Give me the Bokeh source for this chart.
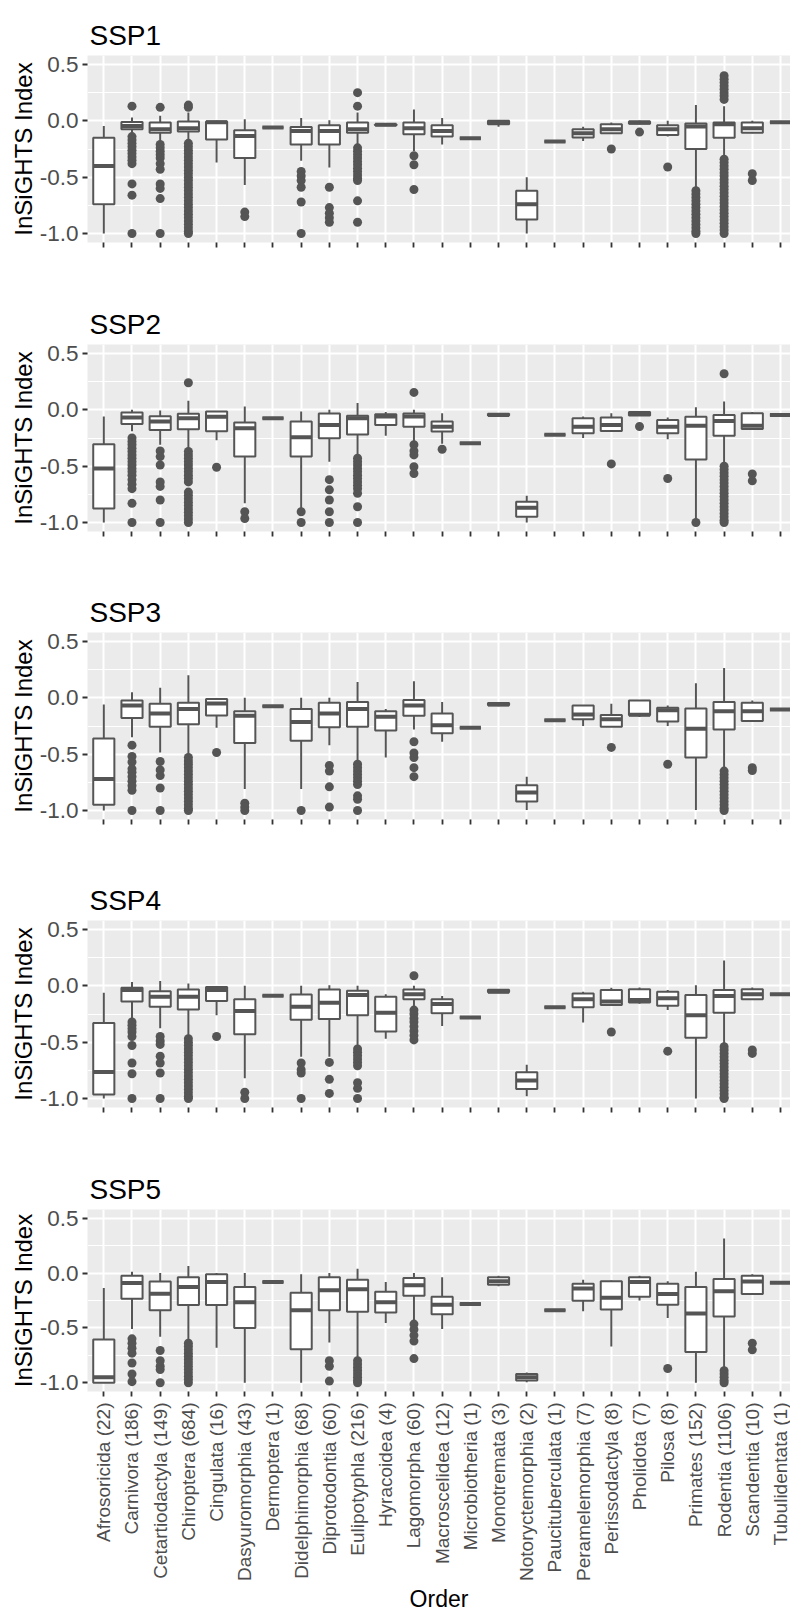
import math
from bokeh.plotting import figure
from bokeh.layouts import column
from bokeh.models import Range1d, FixedTicker, NumeralTickFormatter, ColumnDataSource
from bokeh.embed import file_html
from bokeh.resources import INLINE

# ---------------- data ----------------
orders = ["Afrosoricida (22)", "Carnivora (186)", "Cetartiodactyla (149)", "Chiroptera (684)",
          "Cingulata (16)", "Dasyuromorphia (43)", "Dermoptera (1)", "Didelphimorphia (68)",
          "Diprotodontia (60)", "Eulipotyphla (216)", "Hyracoidea (4)", "Lagomorpha (60)",
          "Macroscelidea (12)", "Microbiotheria (1)", "Monotremata (3)", "Notoryctemorphia (2)",
          "Paucituberculata (1)", "Peramelemorphia (7)", "Perissodactyla (8)", "Pholidota (7)",
          "Pilosa (8)", "Primates (152)", "Rodentia (1106)", "Scandentia (10)", "Tubulidentata (1)"]

scenarios = ["SSP1", "SSP2", "SSP3", "SSP4", "SSP5"]
y_ticks = [-1.0, -0.5, 0.0, 0.5]

# SSP1
ssp1_lo = [-1.0, -0.12, -0.18, -0.18, -0.37, -0.57, -0.06, -0.355, -0.415, -0.21, -0.04, -0.27, -0.21, -0.155, -0.053, -1.0, -0.184, -0.18, -0.11, -0.03, -0.14, -0.59, -0.31, -0.11, -0.012]
ssp1_q1 = [-0.74, -0.075, -0.105, -0.095, -0.165, -0.33, -0.06, -0.21, -0.21, -0.105, -0.04, -0.12, -0.14, -0.155, -0.03, -0.875, -0.184, -0.148, -0.11, -0.025, -0.125, -0.25, -0.15, -0.105, -0.012]
ssp1_med = [-0.40, -0.045, -0.075, -0.065, -0.012, -0.135, -0.06, -0.09, -0.09, -0.075, -0.035, -0.065, -0.09, -0.155, -0.015, -0.74, -0.184, -0.11, -0.074, -0.015, -0.074, -0.05, -0.03, -0.065, -0.012]
ssp1_q3 = [-0.15, -0.01, -0.015, -0.005, -0.005, -0.083, -0.06, -0.055, -0.04, -0.015, -0.03, -0.015, -0.04, -0.155, 0.0, -0.62, -0.184, -0.074, -0.03, -0.005, -0.04, -0.024, -0.015, -0.015, -0.012]
ssp1_hi = [-0.045, 0.03, 0.045, 0.075, 0.0, 0.015, -0.06, 0.025, 0.005, 0.075, -0.03, 0.10, 0.025, -0.155, 0.0, -0.5, -0.184, -0.053, -0.015, 0.0, 0.0, 0.14, 0.13, 0.0, -0.012]
ssp1_out = [
    [],
    [0.13, -0.14, -0.17, -0.2, -0.23, -0.26, -0.29, -0.32, -0.35, -0.38, -0.56, -0.66, -1.0],
    [0.12, -0.21, -0.24, -0.27, -0.3, -0.33, -0.38, -0.43, -0.56, -0.6, -0.69, -1.0],
    [0.14, 0.12, -0.2, -0.23, -0.26, -0.29, -0.32, -0.35, -0.38, -0.41, -0.44, -0.47, -0.5, -0.53, -0.56, -0.59, -0.62, -0.65, -0.68, -0.71, -0.74, -0.77, -0.8, -0.83, -0.86, -0.89, -0.92, -0.95, -0.98, -1.0],
    [],
    [-0.81, -0.85],
    [],
    [-0.45, -0.49, -0.53, -0.59, -0.72, -1.0],
    [-0.59, -0.77, -0.82, -0.86, -0.9],
    [0.25, 0.13, -0.24, -0.27, -0.3, -0.33, -0.36, -0.39, -0.42, -0.45, -0.48, -0.51, -0.53, -0.71, -0.9],
    [],
    [-0.31, -0.39, -0.61],
    [], [], [], [], [], [],
    [-0.25],
    [-0.1],
    [-0.41],
    [-0.62, -0.65, -0.68, -0.71, -0.74, -0.77, -0.8, -0.83, -0.86, -0.89, -0.92, -0.95, -0.98, -1.0],
    [0.4, 0.37, 0.34, 0.31, 0.28, 0.25, 0.22, 0.19, -0.34, -0.37, -0.4, -0.43, -0.46, -0.49, -0.52, -0.55, -0.58, -0.61, -0.64, -0.67, -0.7, -0.73, -0.76, -0.79, -0.82, -0.85, -0.88, -0.91, -0.94, -0.97, -1.0],
    [-0.47, -0.53],
    [],
]

# SSP2
ssp2_lo = [-1.0, -0.19, -0.31, -0.34, -0.27, -0.83, -0.074, -0.875, -0.46, -0.41, -0.23, -0.28, -0.3, -0.297, -0.06, -1.0, -0.222, -0.25, -0.19, -0.05, -0.26, -0.97, -0.475, -0.17, -0.045]
ssp2_q1 = [-0.875, -0.125, -0.178, -0.172, -0.19, -0.415, -0.074, -0.415, -0.252, -0.22, -0.134, -0.15, -0.193, -0.297, -0.05, -0.95, -0.222, -0.208, -0.187, -0.05, -0.208, -0.44, -0.23, -0.17, -0.045]
ssp2_med = [-0.52, -0.068, -0.104, -0.074, -0.062, -0.163, -0.074, -0.243, -0.134, -0.074, -0.06, -0.06, -0.15, -0.297, -0.045, -0.87, -0.222, -0.15, -0.134, -0.035, -0.15, -0.142, -0.098, -0.142, -0.045]
ssp2_q3 = [-0.305, -0.024, -0.056, -0.035, -0.015, -0.113, -0.074, -0.104, -0.033, -0.053, -0.04, -0.033, -0.104, -0.297, -0.035, -0.816, -0.222, -0.074, -0.068, -0.02, -0.09, -0.062, -0.045, -0.03, -0.045]
ssp2_hi = [-0.06, 0.0, -0.005, 0.08, -0.015, 0.03, -0.074, -0.015, 0.0, 0.06, -0.02, 0.0, -0.03, -0.297, -0.03, -0.763, -0.222, -0.06, -0.03, -0.02, -0.068, 0.024, 0.074, -0.02, -0.045]
ssp2_out = [
    [],
    [-0.25, -0.28, -0.31, -0.34, -0.37, -0.4, -0.43, -0.46, -0.49, -0.52, -0.55, -0.58, -0.62, -0.66, -0.7, -0.83, -1.0],
    [-0.365, -0.415, -0.49, -0.64, -0.68, -0.8, -1.0],
    [0.24, -0.37, -0.4, -0.43, -0.46, -0.49, -0.52, -0.55, -0.58, -0.61, -0.64, -0.73, -0.76, -0.79, -0.82, -0.85, -0.88, -0.91, -0.94, -0.97, -1.0],
    [-0.51],
    [-0.905, -0.965],
    [],
    [-0.905, -1.0],
    [-0.62, -0.71, -0.8, -0.905, -1.0],
    [-0.43, -0.46, -0.49, -0.52, -0.55, -0.58, -0.61, -0.64, -0.67, -0.7, -0.74, -0.86, -1.0],
    [],
    [0.155, -0.31, -0.365, -0.4, -0.505, -0.565],
    [-0.35],
    [], [], [], [], [],
    [-0.48],
    [-0.148],
    [-0.61],
    [-1.0],
    [0.32, -0.5, -0.53, -0.56, -0.59, -0.62, -0.65, -0.68, -0.71, -0.74, -0.77, -0.8, -0.83, -0.86, -0.89, -0.92, -0.95, -0.98, -1.0],
    [-0.57, -0.63],
    [],
]

# SSP3
ssp3_lo = [-1.0, -0.35, -0.485, -0.5, -0.265, -0.81, -0.074, -0.81, -0.42, -0.56, -0.53, -0.28, -0.39, -0.265, -0.075, -0.995, -0.2, -0.25, -0.256, -0.17, -0.25, -0.995, -0.62, -0.206, -0.103]
ssp3_q1 = [-0.95, -0.18, -0.256, -0.235, -0.156, -0.4, -0.074, -0.38, -0.26, -0.256, -0.29, -0.16, -0.315, -0.265, -0.065, -0.92, -0.2, -0.19, -0.256, -0.155, -0.21, -0.53, -0.28, -0.206, -0.103]
ssp3_med = [-0.72, -0.068, -0.138, -0.1, -0.05, -0.16, -0.074, -0.215, -0.138, -0.1, -0.168, -0.068, -0.244, -0.265, -0.06, -0.84, -0.2, -0.147, -0.19, -0.15, -0.11, -0.274, -0.118, -0.118, -0.103]
ssp3_q3 = [-0.36, -0.024, -0.053, -0.044, -0.01, -0.118, -0.074, -0.1, -0.044, -0.038, -0.12, -0.02, -0.138, -0.265, -0.045, -0.775, -0.2, -0.068, -0.153, -0.024, -0.088, -0.094, -0.038, -0.044, -0.103]
ssp3_hi = [-0.06, 0.05, 0.09, 0.2, -0.01, 0.0, -0.074, 0.0, 0.0, 0.14, -0.1, 0.147, -0.038, -0.265, -0.04, -0.7, -0.2, -0.068, -0.053, -0.024, -0.068, 0.13, 0.265, -0.024, -0.103]
ssp3_out = [
    [],
    [-0.42, -0.52, -0.57, -0.63, -0.66, -0.7, -0.74, -0.78, -0.82, -1.0],
    [-0.565, -0.64, -0.69, -0.8, -1.0],
    [-0.53, -0.56, -0.59, -0.62, -0.65, -0.68, -0.71, -0.74, -0.77, -0.8, -0.83, -0.86, -0.89, -0.92, -0.95, -0.98, -1.0],
    [-0.485],
    [-0.935, -0.97, -1.0],
    [],
    [-1.0],
    [-0.6, -0.65, -0.79, -0.97],
    [-0.59, -0.62, -0.65, -0.68, -0.71, -0.74, -0.77, -0.87, -0.9, -1.0],
    [],
    [-0.39, -0.49, -0.53, -0.62, -0.7],
    [], [], [], [], [], [],
    [-0.44],
    [],
    [-0.59],
    [],
    [-0.65, -0.68, -0.71, -0.74, -0.77, -0.8, -0.83, -0.86, -0.89, -0.92, -0.95, -0.98, -1.0],
    [-0.62, -0.645],
    [],
]

# SSP4
ssp4_lo = [-1.0, -0.3, -0.376, -0.445, -0.26, -0.82, -0.088, -0.63, -0.63, -0.53, -0.47, -0.185, -0.356, -0.28, -0.06, -0.98, -0.19, -0.326, -0.17, -0.16, -0.215, -1.0, -0.51, -0.12, -0.074]
ssp4_q1 = [-0.965, -0.14, -0.185, -0.21, -0.135, -0.43, -0.088, -0.3, -0.294, -0.26, -0.405, -0.118, -0.244, -0.28, -0.058, -0.915, -0.19, -0.19, -0.17, -0.147, -0.176, -0.46, -0.238, -0.12, -0.074]
ssp4_med = [-0.765, -0.038, -0.097, -0.097, -0.038, -0.224, -0.088, -0.185, -0.15, -0.082, -0.238, -0.074, -0.162, -0.28, -0.053, -0.84, -0.19, -0.12, -0.14, -0.126, -0.11, -0.26, -0.09, -0.074, -0.074]
ssp4_q3 = [-0.33, -0.018, -0.047, -0.032, -0.01, -0.12, -0.088, -0.076, -0.032, -0.044, -0.097, -0.032, -0.12, -0.28, -0.035, -0.768, -0.19, -0.068, -0.038, -0.03, -0.053, -0.082, -0.038, -0.03, -0.074]
ssp4_hi = [-0.062, 0.035, 0.044, 0.02, -0.01, 0.0, -0.088, 0.0, 0.005, 0.0, -0.074, 0.0, -0.09, -0.28, -0.03, -0.7, -0.19, -0.053, -0.018, -0.015, -0.038, 0.005, 0.226, -0.015, -0.074]
ssp4_out = [
    [],
    [-0.32, -0.35, -0.38, -0.41, -0.45, -0.53, -0.685, -0.78, -1.0],
    [-0.45, -0.49, -0.52, -0.625, -0.685, -0.774, -1.0],
    [-0.47, -0.5, -0.53, -0.56, -0.59, -0.62, -0.65, -0.68, -0.71, -0.74, -0.77, -0.8, -0.83, -0.86, -0.89, -0.92, -0.95, -0.98, -1.0],
    [-0.45],
    [-0.945, -1.0],
    [],
    [-0.685, -0.745, -0.774, -1.0],
    [-0.68, -0.83, -0.955],
    [-0.56, -0.59, -0.62, -0.65, -0.68, -0.71, -0.86, -0.91, -1.0],
    [],
    [0.09, -0.215, -0.25, -0.29, -0.32, -0.36, -0.4, -0.44, -0.48],
    [], [], [], [], [], [],
    [-0.41],
    [],
    [-0.58],
    [],
    [-0.54, -0.57, -0.6, -0.63, -0.66, -0.69, -0.72, -0.75, -0.78, -0.81, -0.84, -0.87, -0.9, -0.93, -0.96, -0.99, -1.0],
    [-0.57, -0.6],
    [],
]

# SSP5
ssp5_lo = [-1.0, -0.51, -0.58, -0.63, -0.68, -1.0, -0.082, -1.0, -0.632, -0.78, -0.456, -0.43, -0.51, -0.282, -0.12, -0.995, -0.338, -0.347, -0.67, -0.25, -0.41, -1.0, -0.876, -0.191, -0.088]
ssp5_q1 = [-1.0, -0.235, -0.34, -0.29, -0.29, -0.5, -0.082, -0.694, -0.34, -0.353, -0.36, -0.206, -0.376, -0.282, -0.106, -0.98, -0.338, -0.253, -0.332, -0.215, -0.288, -0.72, -0.397, -0.191, -0.088]
ssp5_med = [-0.95, -0.09, -0.188, -0.126, -0.082, -0.265, -0.082, -0.34, -0.156, -0.147, -0.265, -0.112, -0.288, -0.282, -0.074, -0.95, -0.338, -0.14, -0.224, -0.082, -0.191, -0.368, -0.165, -0.076, -0.088]
ssp5_q3 = [-0.606, -0.024, -0.076, -0.038, -0.01, -0.126, -0.082, -0.18, -0.038, -0.06, -0.17, -0.044, -0.215, -0.282, -0.038, -0.92, -0.338, -0.097, -0.074, -0.038, -0.097, -0.126, -0.053, -0.024, -0.088]
ssp5_hi = [-0.135, 0.012, 0.0, 0.065, 0.0, 0.0, -0.082, -0.01, 0.0, 0.04, -0.082, 0.0, -0.038, -0.282, -0.024, -0.906, -0.338, -0.06, -0.068, -0.024, -0.074, 0.012, 0.315, -0.01, -0.088]
ssp5_out = [
    [],
    [-0.6, -0.64, -0.685, -0.73, -0.82, -0.92, -0.99],
    [-0.706, -0.8, -0.85, -0.88, -1.0],
    [-0.64, -0.67, -0.7, -0.73, -0.76, -0.79, -0.82, -0.85, -0.88, -0.91, -0.94, -0.97, -1.0],
    [], [], [], [],
    [-0.8, -0.85, -0.985],
    [-0.8, -0.83, -0.86, -0.89, -0.92, -0.95, -0.98, -1.0],
    [],
    [-0.465, -0.515, -0.568, -0.62, -0.78],
    [], [], [], [], [], [], [], [],
    [-0.87],
    [],
    [-0.89, -0.92, -0.95, -0.98, -1.0],
    [-0.64, -0.7],
    [],
]

panel_data = [
    (ssp1_lo, ssp1_q1, ssp1_med, ssp1_q3, ssp1_hi, ssp1_out),
    (ssp2_lo, ssp2_q1, ssp2_med, ssp2_q3, ssp2_hi, ssp2_out),
    (ssp3_lo, ssp3_q1, ssp3_med, ssp3_q3, ssp3_hi, ssp3_out),
    (ssp4_lo, ssp4_q1, ssp4_med, ssp4_q3, ssp4_hi, ssp4_out),
    (ssp5_lo, ssp5_q1, ssp5_med, ssp5_q3, ssp5_hi, ssp5_out),
]

# ---------------- style ----------------
FONT = "Liberation Sans"
LINE = "#555555"
BOX_W = 0.75
FRAME_H = 187
TOP = 55
heights = [289, 288, 288, 289, 460]

figs = []
n = len(orders)
xs = list(range(1, n + 1))
for k, (name, (lo, q1, med, q3, hi, outs)) in enumerate(zip(scenarios, panel_data)):
    last = k == len(scenarios) - 1
    p = figure(width=790, height=heights[k], title=name,
               x_range=Range1d(0.422, 25.355), y_range=Range1d(-1.08, 0.58),
               output_backend="svg", toolbar_location=None,
               min_border_left=87, min_border_right=0, min_border_top=TOP,
               min_border_bottom=heights[k] - TOP - FRAME_H,
               background_fill_color="#EBEBEB", border_fill_color="white",
               outline_line_color=None)
    p.title.text_font = FONT
    p.title.text_font_size = "28px"
    p.title.text_font_style = "normal"
    p.title.text_color = "#000000"
    p.title.align = "left"
    p.title.vertical_align = "top"
    p.title.standoff = 5
    p.title.offset = 2

    # grid
    p.xgrid.ticker = FixedTicker(ticks=xs)
    p.xgrid.grid_line_color = "white"
    p.xgrid.grid_line_width = 2
    p.ygrid.ticker = FixedTicker(ticks=y_ticks, minor_ticks=[-0.75, -0.25, 0.25])
    p.ygrid.grid_line_color = "white"
    p.ygrid.grid_line_width = 2
    p.ygrid.minor_grid_line_color = "white"
    p.ygrid.minor_grid_line_width = 1

    # axes
    for ax in (p.xaxis[0], p.yaxis[0]):
        ax.axis_line_color = None
        ax.major_tick_line_color = "#333333"
        ax.major_tick_line_width = 1.8
        ax.major_tick_out = 5
        ax.major_tick_in = 0
        ax.minor_tick_line_color = None
        ax.major_label_text_font = FONT
        ax.major_label_text_color = "#4D4D4D"
        ax.axis_label_text_font = FONT
        ax.axis_label_text_font_style = "normal"
        ax.axis_label_text_color = "#000000"
    p.yaxis.ticker = FixedTicker(ticks=y_ticks)
    p.yaxis.formatter = NumeralTickFormatter(format="0.0")
    p.yaxis.major_label_text_font_size = "22.5px"
    p.yaxis.major_label_standoff = 4
    p.yaxis.axis_label = "InSiGHTS Index"
    p.yaxis.axis_label_text_font_size = "24px"
    p.yaxis.axis_label_standoff = 0

    p.xaxis.ticker = FixedTicker(ticks=xs)
    if last:
        p.xaxis.major_label_overrides = {i + 1: o for i, o in enumerate(orders)}
        p.xaxis.major_label_orientation = math.pi / 2
        p.xaxis.major_label_text_font_size = "19px"
        p.xaxis.major_label_standoff = 6
        p.xaxis.axis_label = "Order"
        p.xaxis.axis_label_text_font_size = "23px"
        p.xaxis.axis_label_standoff = 2
    else:
        p.xaxis.major_label_text_font_size = "19px"
        p.xaxis.major_label_overrides = {i + 1: "" for i in range(n)}

    src = ColumnDataSource(dict(
        x=xs, left=[x - BOX_W / 2 for x in xs], right=[x + BOX_W / 2 for x in xs],
        lo=lo, q1=q1, med=med, q3=q3, hi=hi))
    ox, oy = [], []
    for i, vals in enumerate(outs):
        for v in vals:
            ox.append(i + 1)
            oy.append(v)

    p.scatter(x=ox, y=oy, size=9, fill_color=LINE, line_color=LINE, line_width=0)
    p.segment(x0="x", y0="q3", x1="x", y1="hi", source=src, line_color=LINE, line_width=2)
    p.segment(x0="x", y0="q1", x1="x", y1="lo", source=src, line_color=LINE, line_width=2)
    p.quad(left="left", right="right", bottom="q1", top="q3", source=src,
           fill_color="white", line_color=LINE, line_width=2)
    p.segment(x0="left", y0="med", x1="right", y1="med", source=src,
              line_color=LINE, line_width=4)
    figs.append(p)

layout = column(*figs, spacing=0)
open("out.html", "w").write(file_html(layout, INLINE))
